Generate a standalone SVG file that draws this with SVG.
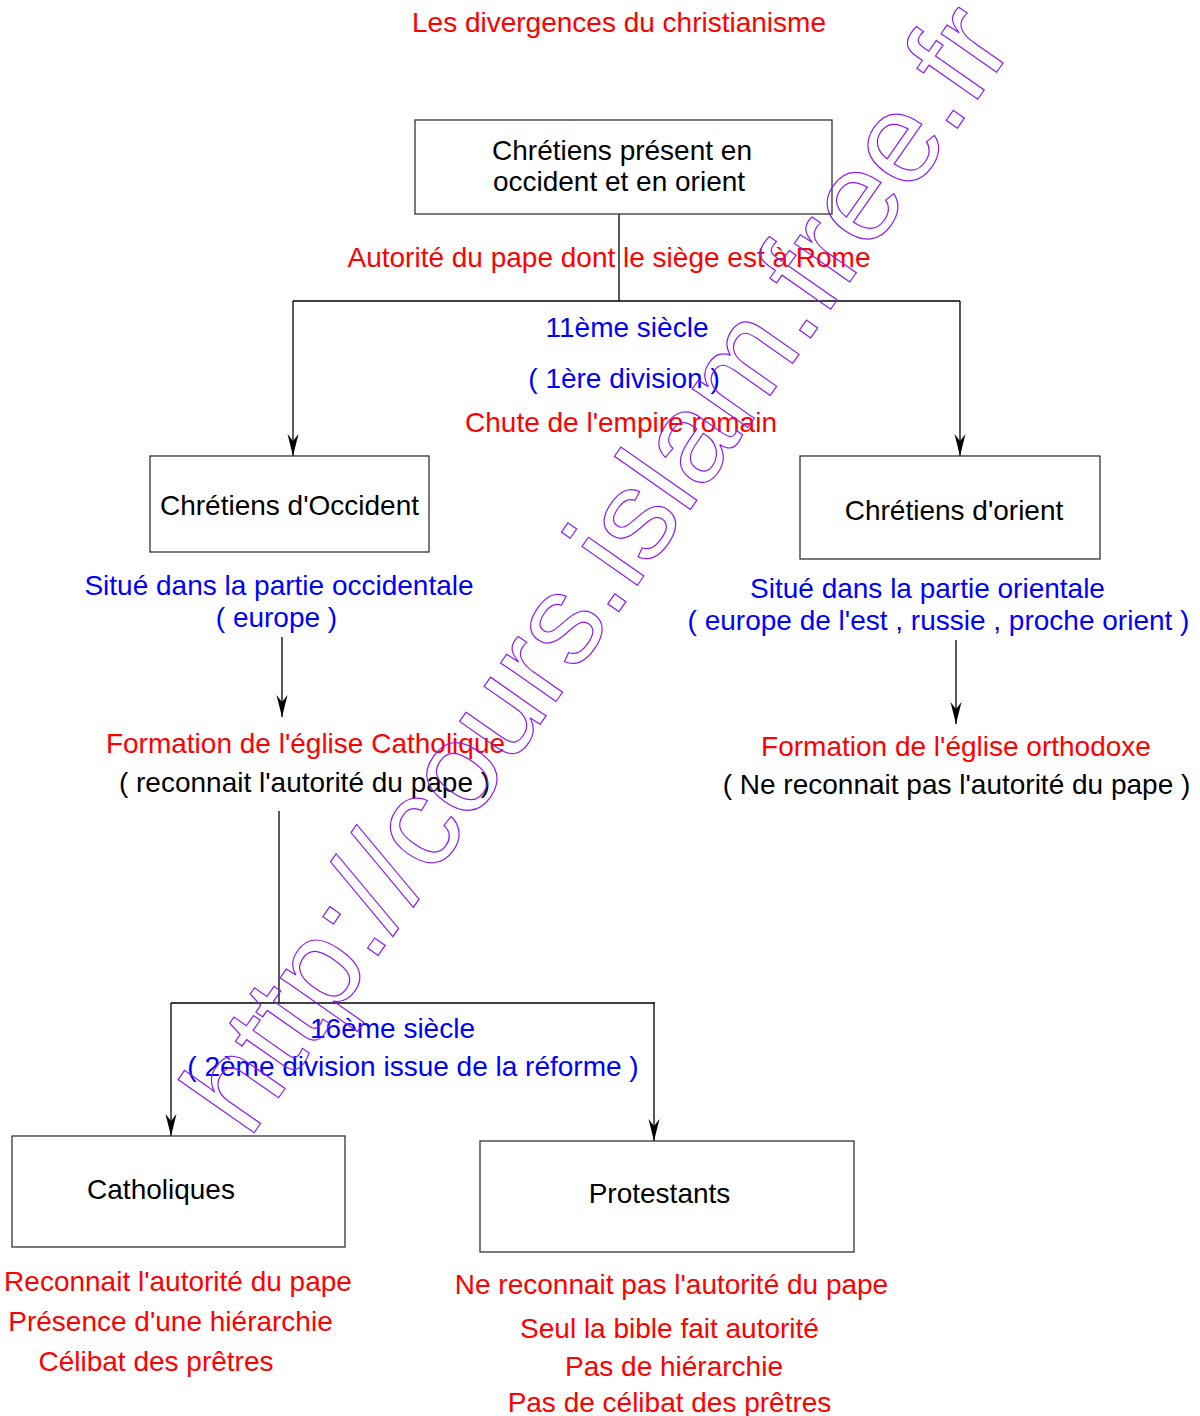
<svg xmlns="http://www.w3.org/2000/svg" width="1200" height="1416" viewBox="0 0 1200 1416">
<style>
text{font-family:"Liberation Sans",Arial,sans-serif;font-size:28px;text-anchor:middle}
.r{fill:#ff0000}.b{fill:#0000ff}.k{fill:#000}
.box{fill:#fff;stroke:#333;stroke-width:1.3}
.ln{fill:none;stroke:#000;stroke-width:1.3}
.wm{fill:none;stroke:#8b1cf0;stroke-width:1.2;font-size:128px;text-anchor:start}
</style>
<defs>
<marker id="ah" markerUnits="userSpaceOnUse" markerWidth="26" markerHeight="14" viewBox="-24 -7 26 14" refX="0" refY="0" orient="auto">
<path d="M0,0 L-22,-5.5 L-15,0 L-22,5.5 Z" fill="#000"/>
</marker>
</defs>
<rect width="1200" height="1416" fill="#fff"/>
<text class="r" x="619" y="32">Les divergences du christianisme</text>
<g id="connectors">
<path class="ln" d="M619,214 V301"/>
<path class="ln" d="M293,301 H960"/>
<path class="ln" d="M293,301 V456" marker-end="url(#ah)"/>
<path class="ln" d="M960,301 V456" marker-end="url(#ah)"/>
<path class="ln" d="M282,637 V717" marker-end="url(#ah)"/>
<path class="ln" d="M956,640 V724" marker-end="url(#ah)"/>
<path class="ln" d="M279,811 V1003"/>
<path class="ln" d="M171,1003 H655"/>
<path class="ln" d="M171,1003 V1136" marker-end="url(#ah)"/>
<path class="ln" d="M654,1003 V1141" marker-end="url(#ah)"/>
</g>
<g id="n-chretiens">
<rect class="box" x="415" y="120" width="417" height="94"/>
<text class="k" x="622" y="160">Chrétiens présent en</text>
<text class="k" x="619" y="191">occident et en orient</text>
</g>
<g id="l-autorite">
<text class="r" x="609" y="267">Autorité du pape dont le siège est à Rome</text>
</g>
<g id="l-11">
<text class="b" x="627" y="337">11ème siècle</text>
<text class="b" x="624" y="388">( 1ère division )</text>
<text class="r" x="621" y="432">Chute de l'empire romain</text>
</g>
<g id="n-occident">
<rect class="box" x="150" y="456" width="279" height="96"/>
<text class="k" x="289.5" y="515">Chrétiens d'Occident</text>
</g>
<g id="n-orient">
<rect class="box" x="800" y="456" width="300" height="103"/>
<text class="k" x="954" y="520">Chrétiens d'orient</text>
</g>
<g id="l-occ">
<text class="b" x="279" y="595">Situé dans la partie occidentale</text>
<text class="b" x="276.5" y="627">( europe )</text>
</g>
<g id="l-ori">
<text class="b" x="927.5" y="598">Situé dans la partie orientale</text>
<text class="b" x="938.5" y="630">( europe de l'est , russie , proche orient )</text>
</g>
<g id="n-catholique">
<text class="r" x="305.5" y="753">Formation de l'église Catholique</text>
<text class="k" x="304.5" y="792">( reconnait l'autorité du pape )</text>
</g>
<g id="n-orthodoxe">
<text class="r" x="956" y="756">Formation de l'église orthodoxe</text>
<text class="k" x="956.5" y="794">( Ne reconnait pas l'autorité du pape )</text>
</g>
<g id="l-16">
<text class="b" x="392.5" y="1038">16ème siècle</text>
<text class="b" x="413" y="1076">( 2ème division issue de la réforme )</text>
</g>
<g id="n-catholiques">
<rect class="box" x="12" y="1136" width="333" height="111"/>
<text class="k" x="161" y="1199">Catholiques</text>
</g>
<g id="n-protestants">
<rect class="box" x="480" y="1141" width="374" height="111"/>
<text class="k" x="659.5" y="1203">Protestants</text>
</g>
<g id="l-cath">
<text class="r" x="178" y="1291">Reconnait l'autorité du pape</text>
<text class="r" x="170.5" y="1331">Présence d'une hiérarchie</text>
<text class="r" x="156" y="1371">Célibat des prêtres</text>
</g>
<g id="l-prot">
<text class="r" x="671.5" y="1294">Ne reconnait pas l'autorité du pape</text>
<text class="r" x="669.5" y="1338">Seul la bible fait autorité</text>
<text class="r" x="674" y="1376">Pas de hiérarchie</text>
<text class="r" x="669.5" y="1412">Pas de célibat des prêtres</text>
</g>
<text class="wm" x="0" y="0" transform="translate(249,1140) rotate(-55)">http://cours.islam.free.fr</text>
</svg>
